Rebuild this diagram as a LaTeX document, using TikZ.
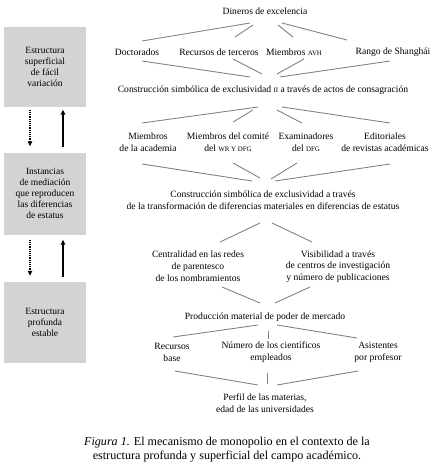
\documentclass[tikz,border=0pt]{standalone}
\usepackage{fontspec}
\setmainfont{Liberation Serif}
\usetikzlibrary{calc,arrows.meta}
\definecolor{boxgray}{RGB}{211,211,213}
\definecolor{linegray}{RGB}{130,130,130}
\newcommand\smc[1]{{\fontsize{6.9}{8}\selectfont #1}}
\begin{document}
\begin{tikzpicture}[x=1pt,y=-1pt,
  lbl/.style={inner sep=0pt,align=center,font=\fontsize{9.6}{11.8}\selectfont},
  sbox/.style={fill=boxgray,minimum width=82pt,inner sep=0pt,align=center,font=\fontsize{9.5}{11}\selectfont},
  conn/.style={draw=linegray,line width=0.9pt},
  uparrow/.style={line width=1.2pt,-{Triangle[width=4.5pt,length=5pt]}},
  dotarrow/.style={line width=1.2pt,densely dotted,-{Triangle[width=4.5pt,length=5pt]}}]
\useasboundingbox (0,0) rectangle (431,466);
% left boxes
\node[sbox,minimum height=80pt] (b1) at (45,66.5) {Estructura\\superficial\\de fácil\\variación};
\node[sbox,minimum height=82pt] (b2) at (45,193.5) {Instancias\\de mediación\\que reproducen\\las diferencias\\de estatus};
\node[sbox,minimum height=81pt] (b3) at (45,322.5) {Estructura\\profunda\\estable};
\draw[dotarrow] ($(b1.south)+(-15,3)$) -- ($(b2.north)+(-15,-6)$);
\draw[uparrow] ($(b2.north)+(18,-5)$) -- ($(b1.south)+(18,3)$);
\draw[dotarrow] ($(b2.south)+(-15,5)$) -- ($(b3.north)+(-15,-6)$);
\draw[uparrow] ($(b3.north)+(18,-5)$) -- ($(b2.south)+(18,5)$);
% nodes
\node[lbl] (din) at (265,11) {Dineros de excelencia};
\node[lbl] (doc) at (137,52) {Doctorados};
\node[lbl] (rec) at (219,52) {Recursos de terceros};
\node[lbl] (avh) at (294,52) {Miembros \smc{AVH}};
\node[lbl] (sha) at (393,52) {Rango de Shanghái};
\node[lbl] (c1) at (263,90) {Construcción simbólica de exclusividad \smc{II} a través de actos de consagración};
\node[lbl] (aca) at (148,142.5) {Miembros\\de la academia};
\node[lbl] (com) at (228,142.5) {Miembros del comité\\del \smc{WR Y DFG}};
\node[lbl] (exa) at (306,142.5) {Examinadores\\del \smc{DFG}};
\node[lbl] (edi) at (385,142.5) {Editoriales\\de revistas académicas};
\node[lbl] (c2) at (263,200) {Construcción simbólica de exclusividad a través\\de la transformación de diferencias materiales en diferencias de estatus};
\node[lbl] (cen) at (198,266.5) {Centralidad en las redes\\de parentesco\\de los nombramientos};
\node[lbl] (vis) at (338,266.5) {Visibilidad a través\\de centros de investigación\\y número de publicaciones};
\node[lbl] (pro) at (265,317) {Producción material de poder de mercado};
\node[lbl] (rb) at (172,352.5) {Recursos\\base};
\node[lbl] (num) at (271,352.5) {Número de los científicos\\empleados};
\node[lbl] (asi) at (378,352.5) {Asistentes\\por profesor};
\node[lbl] (per) at (265,403.5) {Perfil de las materias,\\edad de las universidades};
\node[inner sep=0pt,align=center,font=\fontsize{12.1}{14}\selectfont] (cap) at (227,450) {\textit{Figura 1.} El mecanismo de monopolio en el contexto de la\\estructura profunda y superficial del campo académico.};
% connectors
\draw[conn] ($(din)+(-15,12)$) -- ($(doc)+(5,-11)$);
\draw[conn] ($(din)+(-12,14)$) -- ($(rec)+(16,-15)$);
\draw[conn] ($(din)+(13,14)$) -- ($(avh)+(-1,-15)$);
\draw[conn] ($(din)+(17,12)$) -- ($(sha)+(-46,-12)$);
\draw[conn] ($(doc)+(5,9)$) -- ($(c1)+(-13,-13)$);
\draw[conn] ($(rec)+(14,7)$) -- ($(c1)+(-1,-16)$);
\draw[conn] ($(avh)+(10,7)$) -- ($(c1)+(14,-16)$);
\draw[conn] ($(sha)+(-3,9)$) -- ($(c1)+(17,-13)$);
\draw[conn] ($(c1)+(-5,17)$) -- ($(aca)+(-6,-19.5)$);
\draw[conn] ($(c1)+(-10,20)$) -- ($(com)+(5,-20.5)$);
\draw[conn] ($(c1)+(14,20)$) -- ($(exa)+(-4,-19.5)$);
\draw[conn] ($(c1)+(19,17)$) -- ($(edi)+(5,-19.5)$);
\draw[conn] ($(aca)+(-6,21.5)$) -- ($(c2)+(-11,-19)$);
\draw[conn] ($(com)+(5,20.5)$) -- ($(c2)+(-3,-22)$);
\draw[conn] ($(exa)+(-9,20.5)$) -- ($(c2)+(8,-21)$);
\draw[conn] ($(edi)+(5,21.5)$) -- ($(c2)+(12,-19)$);
\draw[conn] ($(c2)+(-3,23)$) -- ($(cen)+(22,-24.5)$);
\draw[conn] ($(c2)+(9,23)$) -- ($(vis)+(-26,-24.5)$);
\draw[conn] ($(cen)+(24,20.5)$) -- ($(pro)+(-5,-14)$);
\draw[conn] ($(vis)+(-28,20.5)$) -- ($(pro)+(10,-14)$);
\draw[conn] ($(pro)+(-7,8)$) -- ($(rb)+(1,-15.5)$);
\draw[conn] ($(pro)+(3,14)$) -- ($(num)+(-3,-13.5)$);
\draw[conn] ($(pro)+(12,8)$) -- ($(asi)+(-21,-14.5)$);
\draw[conn] ($(rb)+(3,18.5)$) -- ($(per)+(-7,-18.5)$);
\draw[conn] ($(num)+(-4,20.5)$) -- ($(per)+(2,-19.5)$);
\draw[conn] ($(asi)+(-20,18.5)$) -- ($(per)+(12,-18.5)$);
\end{tikzpicture}
\end{document}
